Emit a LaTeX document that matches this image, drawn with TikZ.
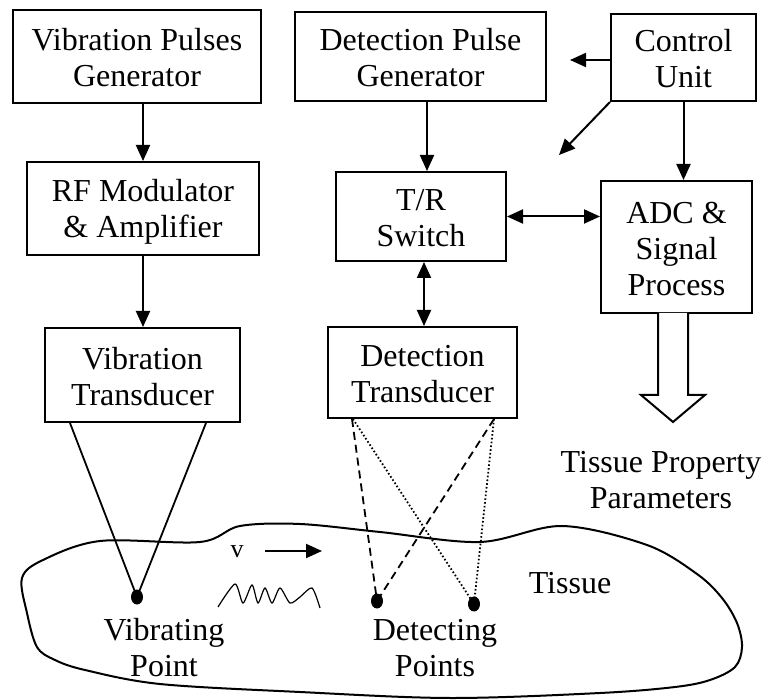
\documentclass[tikz,border=0pt]{standalone}
\usepackage{fontspec}
\setmainfont{Liberation Serif}
\usetikzlibrary{arrows.meta,shapes.geometric}
\newcommand{\lnstrut}{\rule[-4pt]{0pt}{33pt}}
\begin{document}
\begin{tikzpicture}[x=1pt,y=-1pt,
  txt/.style={font=\fontsize{32}{36}\selectfont},
  box/.style={txt, draw, line width=2pt, align=center, inner sep=0pt},
  lbl/.style={txt, align=center, inner sep=0pt},
  arr/.style={line width=2pt, -{Triangle[length=16pt,width=14pt]}},
  darr/.style={line width=2pt, {Triangle[length=16pt,width=14pt]}-{Triangle[length=16pt,width=14pt]}},
  dot/.style={ellipse, fill, inner sep=0pt, minimum width=12pt, minimum height=15pt},
  beam/.style={line width=1.8pt},
  dashbeam/.style={line width=1.8pt, dash pattern=on 8pt off 5pt},
  dotbeam/.style={line width=1.8pt, dash pattern=on 1.6pt off 2.2pt},
]
\useasboundingbox (0,0) rectangle (769,700);

% boxes
\node[box, minimum width=248pt, minimum height=93pt] (vpg) at (137,56.5) {\lnstrut Vibration Pulses\\\lnstrut Generator};
\node[box, minimum width=251pt, minimum height=89pt] (dpg) at (420.5,56.5) {\lnstrut Detection Pulse\\\lnstrut Generator};
\node[box, minimum width=145pt, minimum height=87pt] (cu) at (683.5,57.5) {\lnstrut Control\\\lnstrut Unit};
\node[box, minimum width=232pt, minimum height=93pt] (rf) at (143,208.5) {\lnstrut RF Modulator\\\lnstrut \& Amplifier};
\node[box, minimum width=170pt, minimum height=89pt] (tr) at (421,216.5) {\lnstrut T/R\\\lnstrut Switch};
\node[box, minimum width=151pt, minimum height=132pt] (adc) at (676.5,247) {\lnstrut ADC \&\\\lnstrut Signal\\\lnstrut Process};
\node[box, minimum width=195pt, minimum height=94pt] (vt) at (142.5,375) {\lnstrut Vibration\\\lnstrut Transducer};
\node[box, minimum width=189pt, minimum height=91pt] (dt) at (422.5,372.5) {\lnstrut Detection\\\lnstrut Transducer};

% tissue outline
\draw[line width=2pt] plot[smooth cycle, tension=0.55] coordinates {
  (22,578) (43,560) (100,541) (200,542) (240,526) (300,524) (380,532)
  (480,542) (562,526) (647,545) (697,574) (722,598) (737,623) (742,647)
  (735,667) (710,680) (675,687) (600,693) (450,698) (300,692) (160,684)
  (85,670) (55,660) (37,647) (27,613)};

% text labels
\node[lbl] (tpp) at (661,478.5) {\lnstrut Tissue Property\\\lnstrut Parameters};
\node[lbl] (vpl) at (164,646) {\lnstrut Vibrating\\\lnstrut Point};
\node[lbl] (dpl) at (435,646) {\lnstrut Detecting\\\lnstrut Points};
\node[txt, anchor=base, inner sep=0pt] (tis) at (570,593) {Tissue};
\node[font=\fontsize{26}{30}\selectfont, anchor=base, inner sep=0pt] (vlab) at (237,558) {v};

% connectors
\draw[arr] (rf.north |- vpg.south) -- (rf.north);
\draw[arr] (rf.south) -- (rf.south |- vt.north);
\draw[arr] ([xshift=6pt]tr.north |- dpg.south) -- ([xshift=6pt]tr.north);
\draw[darr] ([xshift=3pt]tr.south) -- ([xshift=3pt]tr.south |- dt.north);
\draw[darr] (tr.east) -- (tr.east -| adc.west);
\coordinate (cuL) at (570,60);
\coordinate (cuD) at (559,155);
\draw[arr] (cu.west |- cuL) -- (cuL);
\draw[arr] (cu.south west) -- (cuD);
\draw[arr] (cu.south) -- (cu.south |- adc.north);

% hollow output arrow
\draw[line width=2pt, fill=white, line join=miter]
  (658,313) -- (658,395) -- (641,395) -- (673,422) -- (705,395) -- (688,395) -- (688,313);

% points
\node[dot] (vpt) at (137,597) {};
\node[dot] (dp1) at (377,601) {};
\node[dot] (dp2) at (474,604) {};

% beams
\draw[beam] ([xshift=-72.5pt]vt.south) -- (vpt.center);
\draw[beam] ([xshift=63.5pt]vt.south) -- (vpt.center);
\draw[dashbeam] ([xshift=-70.5pt]dt.south) -- (dp1.center);
\draw[dashbeam] ([xshift=71.5pt]dt.south) -- (dp1.center);
\draw[dotbeam] ([xshift=-69.5pt]dt.south) -- (dp2.center);
\draw[dotbeam] ([xshift=71.5pt]dt.south) -- (dp2.center);

% velocity arrow and wave
\coordinate (va) at (265,551);
\coordinate (vb) at (322,551);
\draw[arr] (va) -- (vb);
\draw[line width=1.2pt] plot[smooth, tension=0.45] coordinates {
  (218,607) (235,584) (243,603) (252,585) (258,603) (265,588) (272,603)
  (280,588) (290,603) (300,597) (312,588) (320,608)};
\end{tikzpicture}
\end{document}
